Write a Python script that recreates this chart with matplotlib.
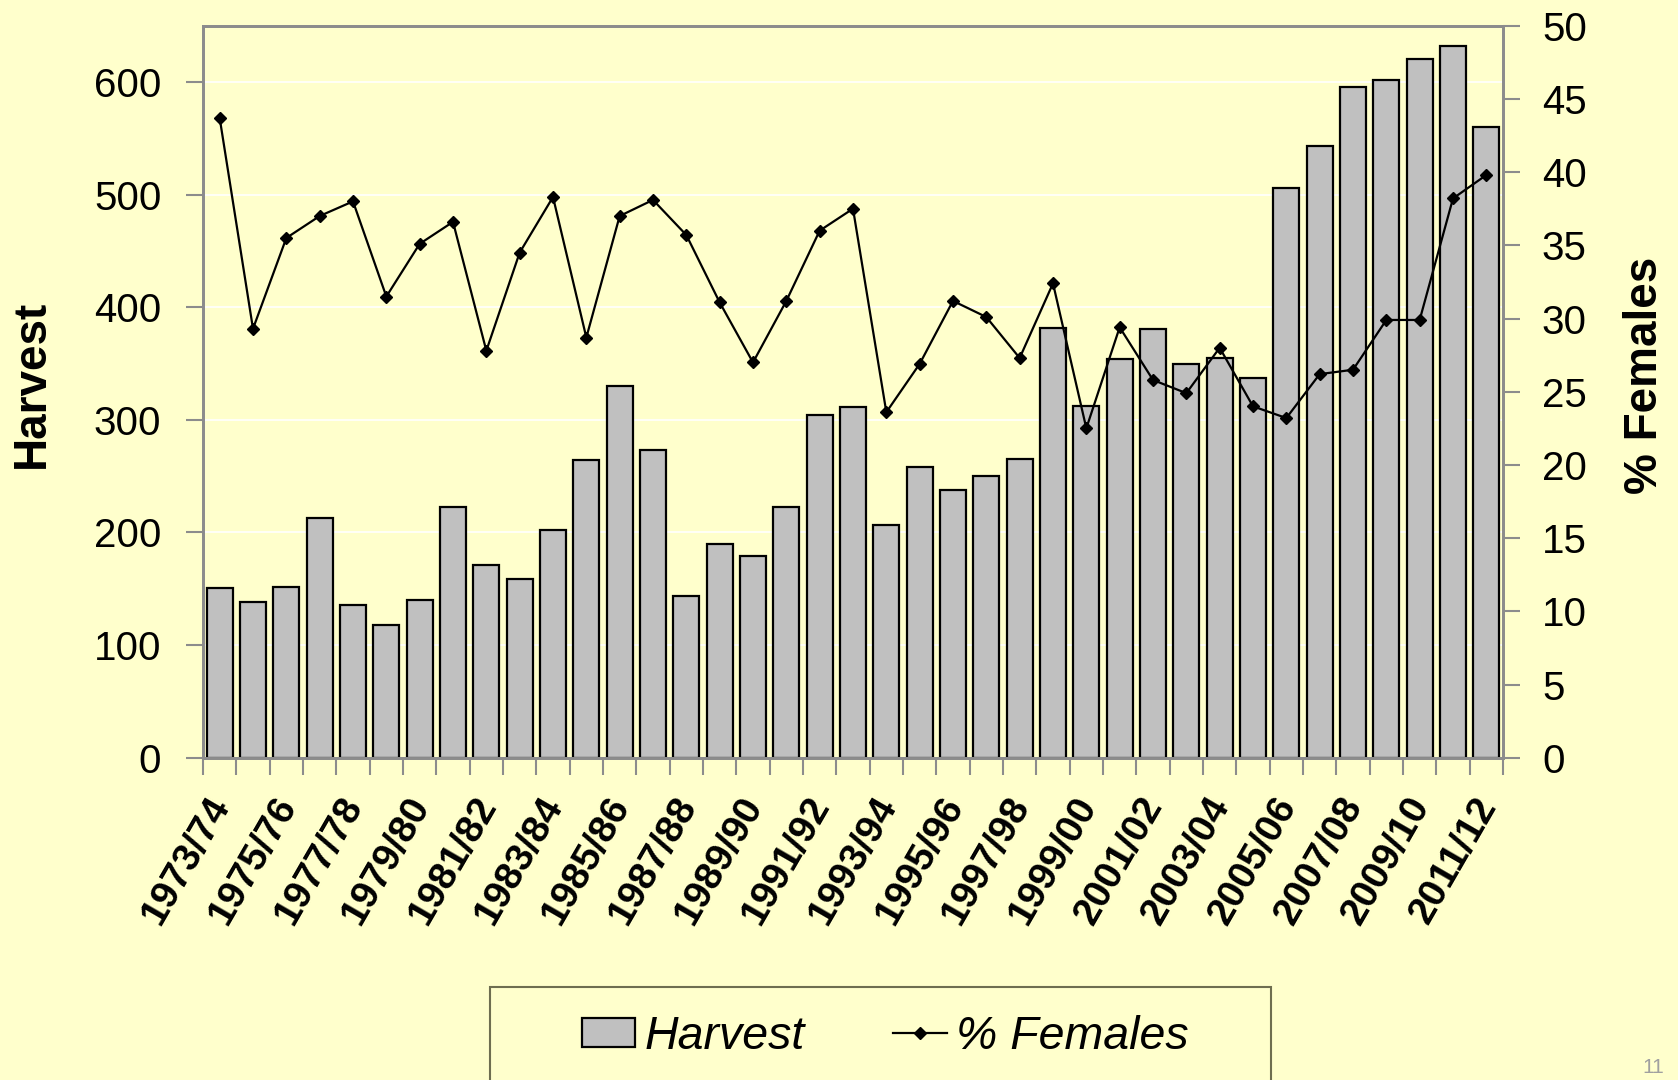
import numpy as np
import matplotlib.pyplot as plt
from matplotlib.patches import Rectangle
from matplotlib.lines import Line2D
import matplotlib.transforms as mtransforms

plt.rcParams['font.family'] = ['Liberation Sans', 'DejaVu Sans']

# seasons 1973/74 .. 2011/12
seasons = ["%d/%02d" % (y, (y + 1) % 100) for y in range(1973, 2012)]

harvest = [151, 138, 152, 213, 136, 118, 140, 223, 171, 159,
           202, 264, 330, 273, 144, 190, 179, 223, 304, 311,
           207, 258, 238, 250, 265, 382, 312, 354, 381, 350,
           355, 337, 506, 543, 596, 602, 620, 632, 560]

pct_females = [43.7, 29.3, 35.5, 37.0, 38.0, 31.5, 35.1, 36.6, 27.8, 34.5,
               38.3, 28.7, 37.0, 38.1, 35.7, 31.1, 27.0, 31.2, 36.0, 37.5,
               23.6, 26.9, 31.2, 30.1, 27.3, 32.4, 22.5, 29.4, 25.8, 24.9,
               28.0, 24.0, 23.2, 26.2, 26.5, 29.9, 29.9, 38.2, 39.8]

bg = "#FFFFCC"
grey_axis = "#8C8C8C"

W, H = 1678, 1080
fig = plt.figure(figsize=(W / 100, H / 100), dpi=100, facecolor=bg)
ax = fig.add_axes([203 / W, 1 - 757.7 / H, 1300 / W, 732 / H])
ax.set_facecolor(bg)
ax2 = ax.twinx()

x = np.arange(len(seasons))
ax.bar(x, harvest, width=0.78, color="#C0C0C0", edgecolor="black", linewidth=1.6, zorder=2)
ax.set_xlim(-0.5, len(seasons) - 0.5)
ax.set_ylim(0, 650)
ax.set_yticks(np.arange(0, 601, 100))
ax.grid(axis='y', color='white', linewidth=1.2, zorder=0)
ax.set_axisbelow(True)

ax2.plot(x, pct_females, color='black', linewidth=1.6, marker='D', markersize=6, zorder=3)
ax2.set_ylim(0, 50)
ax2.set_yticks(np.arange(0, 51, 5))

for a in (ax, ax2):
    for s in a.spines.values():
        s.set_color(grey_axis)
        s.set_linewidth(2)

ax.tick_params(axis='y', labelsize=29, length=12, width=1.5, color=grey_axis, pad=18)
ax2.tick_params(axis='y', labelsize=29, length=12, width=1.5, color=grey_axis, pad=16)

# category ticks at boundaries, labels every second season
ax.set_xticks(np.arange(-0.5, len(seasons), 1), minor=True)
ax.tick_params(axis='x', which='minor', length=12, width=1.5, color=grey_axis)
ax.set_xticks(x[::2])
ax.set_xticklabels(seasons[::2], rotation=60, ha='right', va='top',
                   rotation_mode='anchor', fontsize=28, fontweight='bold')
ax.tick_params(axis='x', which='major', length=0, pad=20)

# line the first label up with the reference (top-right end near the first bar's edge)
fig.canvas.draw()
labels = ax.get_xticklabels()
bb = labels[0].get_window_extent()
dx = 237 - bb.x1
dy = (H - 791) - bb.y1
offset = mtransforms.ScaledTranslation(dx / 100, dy / 100, fig.dpi_scale_trans)
for lab in labels:
    lab.set_transform(lab.get_transform() + offset)

fig.text(32 / W, 1 - 384 / H, "Harvest", rotation=90, ha='center', va='center',
         fontsize=33, fontweight='bold')
fig.text(1645 / W, 1 - 375 / H, "% Females", rotation=90, ha='center', va='center',
         fontsize=33, fontweight='bold')

# legend box (bottom cut off by the page)
fig.patches.append(Rectangle((490 / W, 1 - 1095 / H), 781 / W, 108 / H,
                             transform=fig.transFigure, facecolor=bg,
                             edgecolor="#6E6E50", linewidth=1.5))
handles = [Rectangle((0, 0), 1, 1, facecolor="#C0C0C0", edgecolor="black", linewidth=1.6),
           Line2D([], [], color='black', linewidth=1.6, marker='D', markersize=6)]
fig.legend(handles, ["Harvest", "% Females"], loc='center',
           bbox_to_anchor=(885 / W, 1 - 1037 / H), ncol=2, frameon=False,
           prop={'size': 33.5, 'style': 'italic'}, handlelength=1.15,
           handleheight=0.6, handletextpad=0.2, columnspacing=1.9)

fig.text(1664 / W, 1 - 1058 / H, "11", ha='right', va='top', fontsize=15, color="#A0A0A0")

fig.savefig("out.png", dpi=100, facecolor=bg)
